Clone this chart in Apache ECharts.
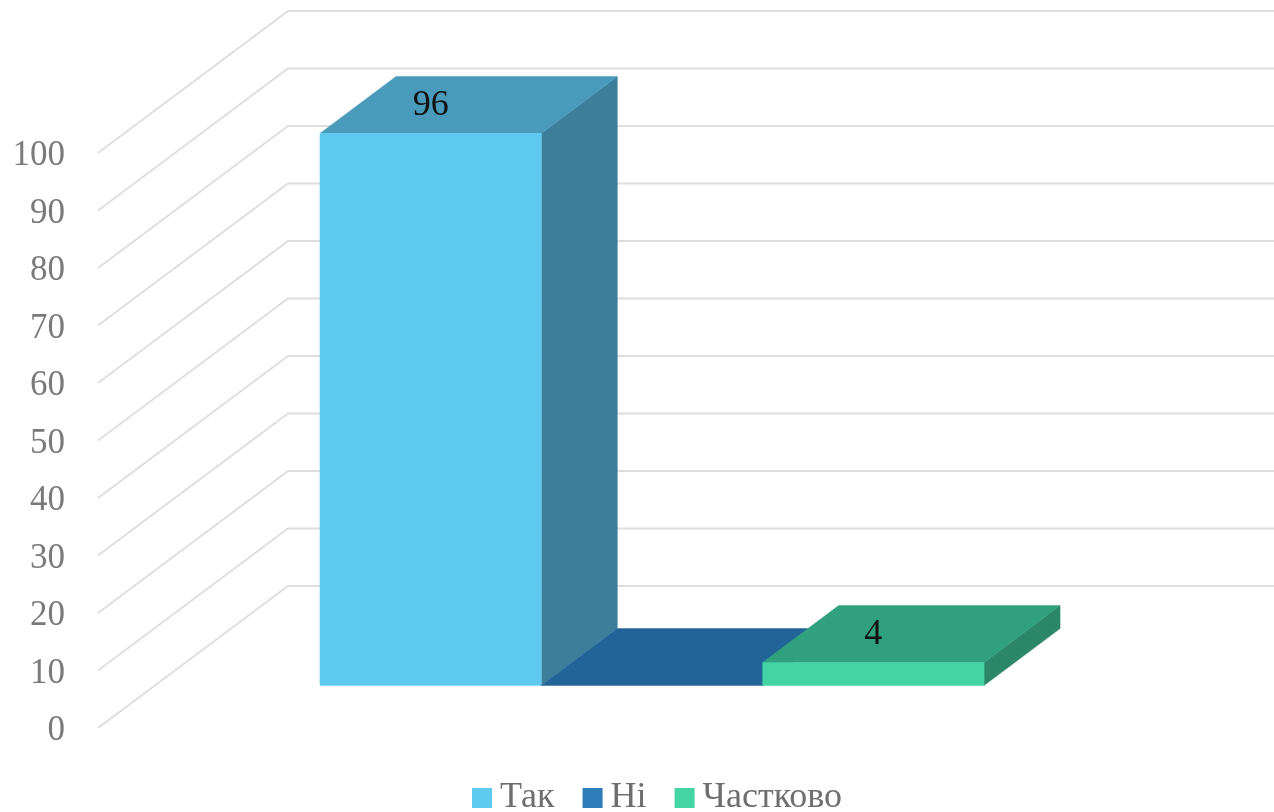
<!DOCTYPE html>
<html>
<head>
<meta charset="utf-8">
<style>html,body{margin:0;padding:0;background:#fff}#c{width:1274px;height:812px;filter:blur(0.6px)}</style>
<script src="https://cdn.jsdelivr.net/npm/echarts@6/dist/echarts.min.js"></script>
</head>
<body>
<div id="c"></div>
<script>
const categories = [''];
const seriesNames = ['Так', 'Ні', 'Частково'];
const yesValues = [96];
const noValues = [0];
const partlyValues = [4];
const yTicks = [0, 10, 20, 30, 40, 50, 60, 70, 80, 90, 100];

const DEPTH_X = 190, DEPTH_Y = -142;      // full floor depth in pixels
const BAR_NEAR = 0.3, BAR_FAR = 0.7;      // bar position within the depth
const BAR_SHARE = 0.2245;                 // bar width as share of the category band
const BAR_SHIFT = 4;
const FONT = '"Liberation Serif", serif';

const palettes = [
  {front: '#5FCAF0', top: '#4A9ABB', side: '#3D7F9B', legend: '#5FCAF0'},
  {front: '#2E7DB8', top: '#226497', side: '#1E5780', legend: '#2E7DB8'},
  {front: '#44D3A3', top: '#31A07C', side: '#2C8668', legend: '#44D3A3'}
];

function poly(points, fill) {
  return {type: 'polygon', shape: {points}, style: {fill, stroke: fill, lineWidth: 0.5}};
}

function barRender(index) {
  return function (params, api) {
    const value = api.value(1);
    const base = api.coord([api.value(0), 0]);
    const top = api.coord([api.value(0), value]);
    const w = api.size([1, 0])[0] * BAR_SHARE;
    const x0 = base[0] - 1.5 * w + index * w + DEPTH_X * BAR_NEAR + BAR_SHIFT;
    const x1 = x0 + w;
    const yB = base[1] + DEPTH_Y * BAR_NEAR;
    const yT = top[1] + DEPTH_Y * BAR_NEAR;
    const dx = DEPTH_X * (BAR_FAR - BAR_NEAR), dy = DEPTH_Y * (BAR_FAR - BAR_NEAR);
    const c = palettes[index];
    const children = [
      poly([[x1, yB], [x1 + dx, yB + dy], [x1 + dx, yT + dy], [x1, yT]], c.side),
      poly([[x0, yT], [x1, yT], [x1 + dx, yT + dy], [x0 + dx, yT + dy]], c.top)
    ];
    if (value > 0) {
      children.push(poly([[x0, yB], [x1, yB], [x1, yT], [x0, yT]], c.front));
      children.push({
        type: 'text',
        style: {
          text: String(value), x: (x0 + x1) / 2, y: yT + dy / 2 + 1,
          fill: '#111', font: '36px ' + FONT, align: 'center', verticalAlign: 'middle'
        }
      });
    }
    return {type: 'group', children};
  };
}

function wallRender(params, api) {
  const front = api.coord([0, api.value(0)]);
  const half = api.size([1, 0])[0] / 2;
  const x0 = front[0] - half, y0 = front[1];
  const x1 = x0 + DEPTH_X, y1 = y0 + DEPTH_Y;
  return {
    type: 'polyline',
    shape: {points: [[x0, y0], [x1, y1], [x1 + half * 2, y1]]},
    style: {stroke: '#DEDEDE', lineWidth: 1.8, fill: null}
  };
}

const barSeries = [yesValues, noValues, partlyValues].map((vals, i) => ({
  name: seriesNames[i],
  type: 'custom',
  renderItem: barRender(i),
  encode: {x: 0, y: 1},
  data: vals.map((v, k) => [k, v]),
  itemStyle: {color: palettes[i].legend},
  clip: false,
  z: 3 + i
}));

const chart = echarts.init(document.getElementById('c'), null, {renderer: 'canvas'});
chart.setOption({
  animation: false,
  backgroundColor: '#fff',
  grid: {left: 98, right: 190, top: 153, bottom: 84, containLabel: false},
  legend: {
    data: seriesNames.map((name, i) => ({name, icon: 'rect', itemStyle: {color: palettes[i].legend}})),
    left: 472, top: 780, padding: 0,
    itemWidth: 20, itemHeight: 20, itemGap: 28,
    selectedMode: false,
    textStyle: {fontFamily: FONT, fontSize: 36, color: '#6E6E6E', padding: [0, 0, 0, 3]}
  },
  xAxis: {
    type: 'category', data: categories,
    axisLine: {show: false}, axisTick: {show: false}, axisLabel: {show: false}, splitLine: {show: false}
  },
  yAxis: {
    type: 'value', min: 0, max: 100, interval: 10,
    axisLine: {show: false}, axisTick: {show: false}, splitLine: {show: false},
    axisLabel: {fontFamily: FONT, fontSize: 35, color: '#7A7A7A', margin: 33, verticalAlign: 'top', lineHeight: 6}
  },
  series: [{
    type: 'custom',
    name: 'wall',
    renderItem: wallRender,
    encode: {y: 0},
    data: yTicks.map(v => [v]),
    silent: true,
    clip: false,
    z: 1
  }].concat(barSeries)
});
</script>
</body>
</html>
